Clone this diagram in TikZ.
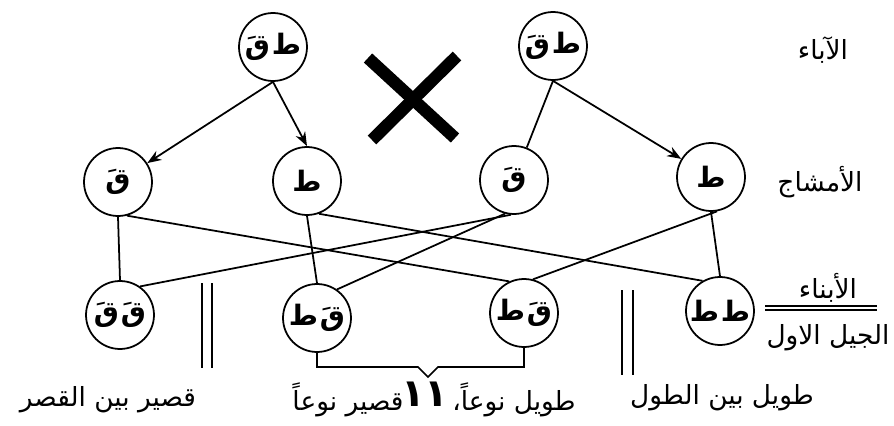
\documentclass[tikz,border=0pt]{standalone}
\usepackage{fontspec}
\usetikzlibrary{arrows.meta}
\newfontfamily\arabicfont[Script=Arabic]{DejaVu Sans}
\TeXXeTstate=1

\begin{document}
\begin{tikzpicture}[x=0.02cm,y=-0.02cm]
	\tikzstyle{cell}=[circle,draw,line width=1pt,minimum size=1.36cm,inner sep=0pt,font=\arabicfont\bfseries\fontsize{16}{18}\selectfont]
	\tikzstyle{row name}=[font=\arabicfont\fontsize{15}{17}\selectfont]
	\tikzstyle{kind}=[font=\arabicfont\fontsize{15}{17}\selectfont]
	\tikzstyle{edge}=[-,black,line width=1pt]
	\tikzstyle{arrow edge}=[edge,-{Stealth[length=8pt,width=6pt]}]
	\tikzstyle{bars}=[-,black,line width=1.2pt]

	\useasboundingbox (0,0) rectangle (894,426);

	\node[cell] (p1) at (273,47) 		{\beginR ط\hskip1pt قَ\endR};
	\node[cell] (p2) at (553,46) 		{\beginR ط\hskip1pt قَ\endR};

	\node[cell] (g1) at (118,182)		{\beginR قَ\endR};
	\node[cell] (g2) at (307,181)		{\beginR ط\endR};
	\node[cell] (g3) at (514,180)		{\beginR قَ\endR};
	\node[cell] (g4) at (711,177)		{\beginR ط\endR};

	\node[cell] (o1) at (120,315)		{\beginR قَ\hskip1pt قَ\endR};
	\node[cell] (o2) at (317,318)		{\beginR قَ\hskip1pt ط\endR};
	\node[cell] (o3) at (524,313)		{\beginR قَ\hskip1pt ط\endR};
	\node[cell] (o4) at (720,311)		{\beginR ط\hskip1pt ط\endR};

	\node[row name] (parents) at (823,50)		{\beginR الآباء\endR};
	\node[row name] (gametes) at (820,182)		{\beginR الأمشاج\endR};
	\node[row name] (sons) at (828,288)			{\beginR الأبناء\endR};
	\node[row name] (first) at (828,338)		{\beginR الجيل الاول\endR};

	\node[kind] (short) at (108,400)			{\beginR قصير بين القصر\endR};
	\node[kind] (semishort) at (348,400)		{\beginR قصير نوعاً\endR};
	\node[font=\arabicfont\bfseries\fontsize{22}{24}\selectfont] (ratio) at (425,394) {١١};
	\node[kind] (semitall) at (514,400)			{\beginR طويل نوعاً،\endR};
	\node[kind] (tall) at (722,398)				{\beginR طويل بين الطول\endR};

	\draw[line width=7pt] (368,58) -- (455,138);
	\draw[line width=7pt] (457,56) -- (372,140);

	\draw[arrow edge] (p1.south) -- (g1);
	\draw[arrow edge] (p1.south) -- (g2.north);
	\draw[edge] (p2.south) -- (g3);
	\draw[arrow edge] (p2.south) -- (g4);

	\draw[edge] (g1.south) -- (o1.north);
	\draw[edge] (g1.-75) -- (o3.115);
	\draw[edge] (g2.south) -- (o2.north);
	\draw[edge] (g2.-70) -- (o4.120);
	\draw[edge] (g3.-95) -- (o1.55);
	\draw[edge] (g3.-105) -- (o2.55);
	\draw[edge] (g4.-80) -- (o3.75);
	\draw[edge] (g4.south) -- (o4.north);

	\draw[edge] (o2.south) |- (418,367) -- (428,377) -- (438,367) -| (o3.south);

	\draw[bars] (202,283) -- (202,368);
	\draw[bars] (212,283) -- (212,368);
	\draw[bars] (622,290) -- (622,375);
	\draw[bars] (633,290) -- (633,375);

	\draw[edge] (765,306) -- (877,306);
	\draw[edge] (765,310) -- (877,310);
\end{tikzpicture}
\end{document}
